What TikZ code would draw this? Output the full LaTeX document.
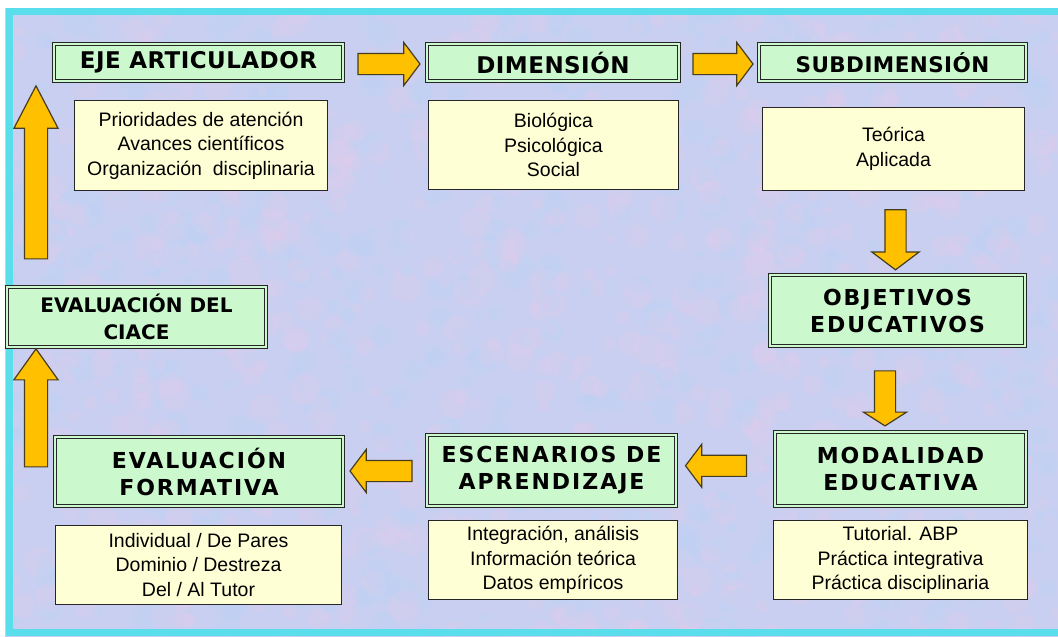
\documentclass[tikz,border=0pt]{standalone}
\usepackage{fontspec}
\setmainfont{Liberation Sans}
\newfontfamily\hdrfont[LetterSpace=2]{DejaVu Sans}
\newfontfamily\hdrwide[LetterSpace=9]{DejaVu Sans}
\newfontfamily\hdrtight{DejaVu Sans}
\usetikzlibrary{shapes.arrows,calc}
\definecolor{bgc}{RGB}{200,207,241}
\definecolor{blobpink}{RGB}{232,204,234}
\definecolor{blobblue}{RGB}{184,212,246}
\definecolor{framec}{RGB}{90,222,236}
\definecolor{hgreen}{RGB}{204,248,206}
\definecolor{dyellow}{RGB}{255,255,214}
\definecolor{gold}{RGB}{255,192,0}
\definecolor{arrowline}{RGB}{70,60,30}
\begin{document}
\begin{tikzpicture}[x=1pt,y=-1pt,
  hdr/.style={draw=black!85, line width=1pt, double=hgreen, double distance=2pt,
    fill=hgreen, inner sep=0pt, align=center,
    font=\hdrfont\bfseries\fontsize{23}{27}\selectfont},
  hdrw/.style={hdr, font=\hdrwide\bfseries\fontsize{22}{27}\selectfont},
  hdrb/.style={hdr, font=\hdrtight\bfseries\fontsize{20}{27}\selectfont},
  det/.style={draw=black!85, line width=1.2pt, fill=dyellow, inner sep=0pt,
    align=center, font=\fontsize{19.5}{24.5}\selectfont},
  blk/.style={single arrow, draw=arrowline, line width=1.2pt, fill=gold,
    inner xsep=0pt, inner ysep=10pt, single arrow head extend=11pt,
    single arrow tip angle=106}
]
\useasboundingbox (0,0) rectangle (1058,637);
\fill[white] (0,0) rectangle (1058,637);
% background
\begin{scope}
  \clip (5,8) rectangle (1058,637);
  \fill[bgc] (5,8) rectangle (1058,637);
  \pgfmathsetseed{7}
  \foreach \i in {1,...,700}{
    \pgfmathsetmacro\px{rnd*1060}
    \pgfmathsetmacro\py{rnd*640}
    \pgfmathsetmacro\pr{4+rnd*12}
    \fill[blobpink, opacity=0.22] (\px,\py) circle (\pr);
  }
  \foreach \i in {1,...,600}{
    \pgfmathsetmacro\px{rnd*1060}
    \pgfmathsetmacro\py{rnd*640}
    \pgfmathsetmacro\pr{4+rnd*10}
    \fill[blobblue, opacity=0.2] (\px,\py) circle (\pr);
  }
\end{scope}
\draw[framec, line width=7pt] (1058,11.5) -- (9,11.5) -- (9,632.5) -- (1058,632.5);

% headers
\node[hdr, minimum width=289pt, minimum height=37pt] (eje) at (198.5,62.5) {EJE ARTICULADOR};
\node[hdr, minimum width=252pt, minimum height=37pt] (dim) at (553,62.5) {DIMENSIÓN};
\node[hdr, minimum width=267pt, minimum height=37pt, font=\hdrfont\bfseries\fontsize{21.5}{27}\selectfont] (sub) at (892.5,62.5) {SUBDIMENSIÓN};
\node[hdrw, minimum width=255pt, minimum height=71pt] (obj) at (897.5,310.5) {OBJETIVOS\\EDUCATIVOS};
\node[hdrw, minimum width=251pt, minimum height=74pt] (mod) at (900.5,469) {MODALIDAD\\EDUCATIVA};
\node[hdrw, minimum width=249pt, minimum height=71pt] (esc) at (551.5,470.5) {ESCENARIOS DE\\APRENDIZAJE};
\node[hdrw, minimum width=288pt, minimum height=69pt] (evf) at (199,471.5) {EVALUACIÓN\\FORMATIVA};
\node[hdrb, minimum width=259pt, minimum height=60pt] (cia) at (136.5,317) {EVALUACIÓN DEL\\CIACE};

% detail boxes
\node[det, minimum width=253pt, minimum height=90pt] (d1) at (201,145.5)
  {Prioridades de atención\\Avances científicos\\Organización\ \ disciplinaria};
\node[det, minimum width=250pt, minimum height=89pt] (d2) at (553.5,145)
  {Biológica\\Psicológica\\Social};
\node[det, minimum width=262pt, minimum height=83pt] (d3) at (893.5,149)
  {Teórica\\Aplicada};
\node[det, minimum width=254pt, minimum height=79pt] (d5) at (900.5,560)
  {Tutorial. ABP\\Práctica integrativa\\Práctica disciplinaria};
\node[det, minimum width=249pt, minimum height=79pt] (d6) at (553,560)
  {Integración, análisis\\Información teórica\\Datos empíricos};
\node[det, minimum width=286pt, minimum height=79pt] (d7) at (198.5,565)
  {Individual / De Pares\\Dominio / Destreza\\Del / Al Tutor};

% block arrows
\node[blk, minimum height=62pt] (a1) at ($(eje.east)!0.5!(dim.west)+(0,1.5)$) {};
\node[blk, minimum height=60pt] (a2) at ($(dim.east)!0.5!(sub.west)+(0,1.5)$) {};
\node[blk, rotate=-90, minimum height=60pt, single arrow head extend=13pt] (a3) at ($(d3.south)!0.5!(obj.north)+(0,3)$) {};
\node[blk, rotate=-90, minimum height=55pt, single arrow tip angle=115] (a4) at ($(obj.south)!0.5!(mod.north)+(-14,6)$) {};
\node[blk, rotate=180, minimum height=61pt] (a5) at ($(mod.west)!0.5!(esc.east)+(-5.5,-4)$) {};
\node[blk, rotate=180, minimum height=62pt] (a6) at ($(esc.west)!0.5!(evf.east)$) {};
\node[blk, rotate=90, minimum height=118pt, inner ysep=11pt, single arrow head extend=10.5pt, single arrow tip angle=71] (a7) at (36,416) {};
\node[blk, rotate=90, minimum height=173pt, inner ysep=11pt, single arrow head extend=10.5pt, single arrow tip angle=55] (a8) at (36,183.5) {};
\end{tikzpicture}
\end{document}
